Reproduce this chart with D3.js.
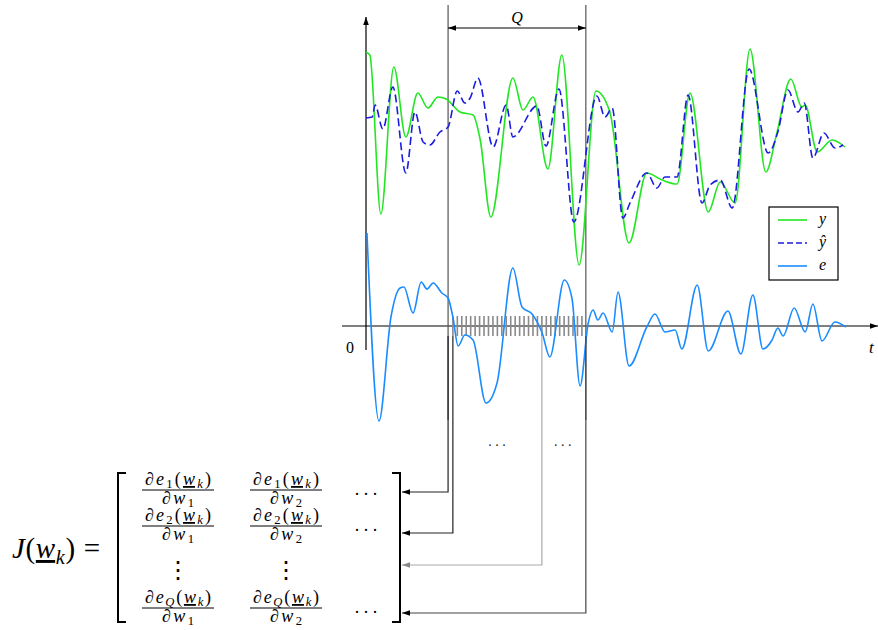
<!DOCTYPE html>
<html>
<head>
<meta charset="utf-8">
<script src="https://cdn.jsdelivr.net/npm/d3@7"></script>
<style>
  body { margin: 0; background: #fff; }
</style>
</head>
<body>
<div id="chart"></div>
<script>
// measured output y, model output yhat and error e over time t
var yT    = [0, 0.08, 0.31, 0.58, 0.83, 1.08, 1.29, 1.5, 1.67, 1.96, 2.23, 2.38, 2.6, 3.06, 3.27, 3.48, 3.79, 4.08, 4.44, 4.79, 5.08, 5.48, 5.85, 6.17, 6.48, 6.75, 7.13, 7.38, 7.69, 8.0, 8.33, 8.56, 8.85, 9.08, 9.15, 9.4, 9.71, 9.98];
var yVals = [0.93, 0.9, -0.69, 0.78, 0.08, 0.52, 0.37, 0.48, 0.46, 0.33, 0.3, 0.05, -0.72, 0.67, 0.35, 0.48, -0.24, 0.9, -1.2, 0.54, 0.33, -0.98, -0.28, -0.35, -0.39, 0.52, -0.67, -0.37, -0.58, 0.96, -0.27, 0.12, 0.66, 0.38, 0.4, -0.07, 0.05, -0.02];

var yhatT    = [0, 0.13, 0.19, 0.35, 0.56, 0.83, 1.02, 1.19, 1.33, 1.54, 1.71, 1.9, 2.06, 2.17, 2.33, 2.65, 2.92, 3.06, 3.56, 3.75, 4.02, 4.33, 4.81, 4.98, 5.13, 5.35, 5.5, 5.85, 6.06, 6.23, 6.48, 6.71, 7.0, 7.17, 7.38, 7.63, 7.98, 8.38, 8.58, 8.79, 9.0, 9.13, 9.31, 9.54, 9.77, 9.94];
var yhatVals = [0.27, 0.28, 0.4, 0.16, 0.58, -0.28, 0.33, 0.03, 0.0, 0.13, 0.18, 0.54, 0.42, 0.47, 0.67, -0.02, 0.4, 0.08, 0.39, -0.01, 0.56, -0.77, 0.49, 0.28, 0.37, -0.73, -0.58, -0.28, -0.43, -0.32, -0.32, 0.5, -0.58, -0.4, -0.35, -0.63, 0.76, -0.08, 0.13, 0.55, 0.33, 0.42, -0.13, 0.12, -0.03, 0.0];

var eT    = [0.02, 0.27, 0.52, 0.71, 0.79, 0.98, 1.15, 1.27, 1.4, 1.58, 1.71, 1.81, 1.92, 2.06, 2.23, 2.5, 2.73, 3.06, 3.25, 3.46, 3.67, 3.83, 4.13, 4.29, 4.46, 4.63, 4.73, 4.83, 4.94, 5.13, 5.25, 5.48, 5.85, 6.02, 6.23, 6.44, 6.58, 6.9, 7.13, 7.54, 7.81, 8.06, 8.27, 8.46, 8.58, 8.69, 8.92, 9.15, 9.31, 9.5, 9.77, 10.0];
var eVals = [0.93, -0.95, 0.09, 0.38, 0.39, 0.13, 0.44, 0.37, 0.43, 0.33, 0.28, 0.09, -0.2, -0.09, -0.14, -0.77, -0.57, 0.58, 0.19, 0.12, -0.07, -0.31, 0.46, 0.28, -0.6, 0.03, 0.16, 0.06, 0.13, -0.06, 0.34, -0.4, -0.01, 0.12, -0.06, -0.04, -0.23, 0.41, -0.25, 0.15, -0.28, 0.31, -0.23, -0.14, -0.02, -0.1, 0.18, -0.06, 0.22, -0.15, 0.04, -0.01];

// window of Q samples
var qStart = 1.71, qEnd = 4.58;
var firstSample = 1.81, sampleStep = 0.0927, nSamples = 30;

var legendNames = ["y", "ŷ", "e"];
var legendColors = ["#22e622", "#1c1ce0", "#1a8cff"];

var width = 878, height = 630;
var serif = "'Liberation Serif', 'Times New Roman', serif";

var svg = d3.select("#chart").append("svg")
  .attr("width", width)
  .attr("height", height)
  .attr("font-family", serif);

var x = d3.scaleLinear().domain([0, 10]).range([366, 846]);
var yUp = d3.scaleLinear().domain([-1, 1]).range([245, 45]);
var yE = d3.scaleLinear().domain([-1, 1]).range([426, 226]);

var defs = svg.append("defs");
function marker(id, color, size) {
  defs.append("marker")
    .attr("id", id)
    .attr("viewBox", "0 0 10 10")
    .attr("refX", 10).attr("refY", 5)
    .attr("markerWidth", size).attr("markerHeight", size)
    .attr("markerUnits", "userSpaceOnUse")
    .attr("orient", "auto-start-reverse")
    .append("path")
    .attr("d", "M0,1.5 L10,5 L0,8.5 Z")
    .attr("fill", color);
}
marker("arr", "#000", 8);
marker("arrGray", "#888", 8);

// axes
svg.append("line")
  .attr("x1", 342).attr("x2", 878)
  .attr("y1", yE(0)).attr("y2", yE(0))
  .attr("stroke", "#000").attr("stroke-width", 1.2)
  .attr("marker-end", "url(#arr)");
svg.append("line")
  .attr("x1", x(0)).attr("x2", x(0))
  .attr("y1", 350).attr("y2", 17)
  .attr("stroke", "#000").attr("stroke-width", 1.2)
  .attr("marker-end", "url(#arr)");
svg.append("text").attr("x", 346).attr("y", 353)
  .attr("font-size", 16).text("0");
svg.append("text").attr("x", 869).attr("y", 353)
  .attr("font-size", 17).attr("font-style", "italic").text("t");

// sample hatch in the Q window
var samples = d3.range(nSamples).map(function(i) { return firstSample + i * sampleStep; });
svg.append("g").selectAll("line")
  .data(samples)
  .enter().append("line")
  .attr("x1", function(d) { return x(d); })
  .attr("x2", function(d) { return x(d); })
  .attr("y1", yE(0.1)).attr("y2", yE(-0.1))
  .attr("stroke", "#8a8a8a").attr("stroke-width", 1.6);

// Q window borders
[qStart, qEnd].forEach(function(t) {
  svg.append("line")
    .attr("x1", x(t)).attr("x2", x(t))
    .attr("y1", 5).attr("y2", 420)
    .attr("stroke", "#555").attr("stroke-width", 1.2);
});
svg.append("line")
  .attr("x1", x(qStart)).attr("x2", x(qEnd))
  .attr("y1", 28).attr("y2", 28)
  .attr("stroke", "#000").attr("stroke-width", 1)
  .attr("marker-start", "url(#arr)")
  .attr("marker-end", "url(#arr)");
svg.append("text").attr("x", (x(qStart) + x(qEnd)) / 2).attr("y", 23)
  .attr("text-anchor", "middle").attr("font-size", 16)
  .attr("font-style", "italic").text("Q");

// curves
var lineUp = d3.line()
  .x(function(d) { return x(d[0]); })
  .y(function(d) { return yUp(d[1]); })
  .curve(d3.curveMonotoneX);
var lineE = d3.line()
  .x(function(d) { return x(d[0]); })
  .y(function(d) { return yE(d[1]); })
  .curve(d3.curveMonotoneX);

svg.append("path")
  .datum(d3.zip(yT, yVals))
  .attr("d", lineUp)
  .attr("fill", "none").attr("stroke", legendColors[0]).attr("stroke-width", 1.6);
svg.append("path")
  .datum(d3.zip(yhatT, yhatVals))
  .attr("d", lineUp)
  .attr("fill", "none").attr("stroke", legendColors[1]).attr("stroke-width", 1.6)
  .attr("stroke-dasharray", "8,4");
svg.append("path")
  .datum(d3.zip(eT, eVals))
  .attr("d", lineE)
  .attr("fill", "none").attr("stroke", legendColors[2]).attr("stroke-width", 1.6);

// dots below the error curve
[2.73, 4.1].forEach(function(t) {
  svg.append("text").attr("x", x(t)).attr("y", 446)
    .attr("text-anchor", "middle").attr("font-size", 14)
    .attr("fill", "#222").text(". . .");
});

// legend
var lg = svg.append("g").attr("transform", "translate(769,207)");
lg.append("rect").attr("width", 69).attr("height", 73)
  .attr("fill", "#fff").attr("stroke", "#000").attr("stroke-width", 1.2);
legendNames.forEach(function(n, i) {
  var yy = 13 + i * 23;
  lg.append("line").attr("x1", 9).attr("x2", 38).attr("y1", yy).attr("y2", yy)
    .attr("stroke", legendColors[i]).attr("stroke-width", 1.6)
    .attr("stroke-dasharray", i == 1 ? "6,3" : null);
  lg.append("text").attr("x", 50).attr("y", yy + 4)
    .attr("font-size", 16).attr("font-style", "italic").text(n);
});

// connectors from the samples down to the Jacobian rows
var rowBars = [492, 533, 565, 613];
var links = [
  {t: qStart, y0: yE(-0.1), row: 0, color: "#222", m: "arr"},
  {t: samples[0], y0: yE(-0.1), row: 1, color: "#222", m: "arr"},
  {t: samples[20], y0: yE(-0.1), row: 2, color: "#aaa", m: "arrGray"},
  {t: qEnd, y0: yE(-0.1), row: 3, color: "#444", m: "arr"}
];
links.forEach(function(l) {
  svg.append("path")
    .attr("d", "M" + x(l.t) + "," + l.y0 + " V" + rowBars[l.row] + " H402")
    .attr("fill", "none").attr("stroke", l.color).attr("stroke-width", 1.2)
    .attr("marker-end", "url(#" + l.m + ")");
});

// Jacobian matrix
// parts: [text, flags] with i = italic, u = underline, s = subscript, b = back to baseline
function addParts(t, parts, size, shift) {
  parts.forEach(function(p) {
    var s = t.append("tspan").text(p[0]);
    if (p[1].indexOf("i") >= 0) s.attr("font-style", "italic");
    if (p[1].indexOf("u") >= 0) s.attr("text-decoration", "underline");
    if (p[1].indexOf("s") >= 0) s.attr("font-size", size * 0.7).attr("dy", shift);
    if (p[1].indexOf("b") >= 0) s.attr("dy", -shift);
  });
}

var J = svg.append("text").attr("x", 12).attr("y", 558).attr("font-size", 29);
addParts(J, [["J", "i"], ["(", ""], ["w", "iu"], ["k", "is"], [")", "b"], [" =", ""]], 29, 6);
J.attr("textLength", 88).attr("lengthAdjust", "spacing");

var fs = 18;
function frac(cx, barY, eSub, wSub) {
  var num = svg.append("text").attr("x", cx).attr("y", barY - 5)
    .attr("text-anchor", "middle").attr("font-size", fs)
    .attr("textLength", 66).attr("lengthAdjust", "spacing");
  addParts(num, [["∂", ""], ["e", "i"], [eSub, eSub == "Q" ? "is" : "s"], ["(", "b"], ["w", "iu"], ["k", "is"], [")", "b"]], fs, 3);
  svg.append("line").attr("x1", cx - 36).attr("x2", cx + 36)
    .attr("y1", barY).attr("y2", barY)
    .attr("stroke", "#000").attr("stroke-width", 1);
  var den = svg.append("text").attr("x", cx).attr("y", barY + 14)
    .attr("text-anchor", "middle").attr("font-size", fs)
    .attr("textLength", 32).attr("lengthAdjust", "spacing");
  addParts(den, [["∂", ""], ["w", "i"], [wSub, "s"]], fs, 3);
}

var colX = [178, 286];
var colSubs = ["1", "2"];
var rowSubs = ["1", "2", null, "Q"];
var rowY = [490, 526, 567, 608];
rowSubs.forEach(function(r, i) {
  colX.forEach(function(cx, j) {
    if (r) frac(cx, rowY[i], r, colSubs[j]);
    else svg.append("text").attr("x", cx).attr("y", rowY[i] + 11)
      .attr("text-anchor", "middle").attr("font-size", 24).text("⋮");
  });
  if (r) svg.append("text").attr("x", 366).attr("y", rowY[i] + 5)
    .attr("text-anchor", "middle").attr("font-size", 18).text(". . .");
});

svg.append("path").attr("d", "M126,473 H118 V622 H126")
  .attr("fill", "none").attr("stroke", "#000").attr("stroke-width", 2);
svg.append("path").attr("d", "M392,473 H400 V622 H392")
  .attr("fill", "none").attr("stroke", "#000").attr("stroke-width", 2);
</script>
</body>
</html>
